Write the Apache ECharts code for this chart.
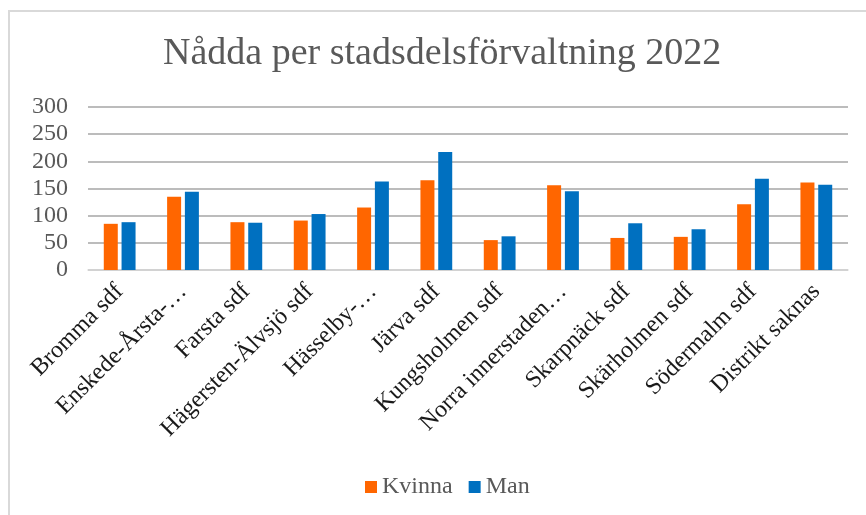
<!DOCTYPE html>
<html>
<head>
<meta charset="utf-8">
<script src="https://cdn.jsdelivr.net/npm/echarts@6/dist/echarts.min.js"></script>
<style>
  html, body { margin: 0; padding: 0; background: #fff; }
  #main { width: 866px; height: 515px; }
</style>
</head>
<body>
<div id="main"></div>
<script>
// stadsdelar (labels as shown, truncated ones keep the ellipsis)
var districts = [
  "Bromma sdf", "Enskede-Årsta-…", "Farsta sdf", "Hägersten-Älvsjö sdf",
  "Hässelby-…", "Järva sdf", "Kungsholmen sdf", "Norra innerstaden…",
  "Skarpnäck sdf", "Skärholmen sdf", "Södermalm sdf", "Distrikt saknas"
];
var kvinna = [85, 135, 88, 91, 115, 165, 55, 156, 59, 61, 121, 161];
var man = [88, 144, 87, 103, 163, 217, 62, 145, 86, 75, 168, 157];
var yTicks = [0, 50, 100, 150, 200, 250, 300];

var fontName = "Liberation Serif";
var grey = "#595959";

var myChart = echarts.init(document.getElementById("main"));

var option = {
  backgroundColor: "#fff",
  animation: false,
  textStyle: { fontFamily: fontName },
  // ram runt diagrammet
  graphic: [{
    type: "rect",
    shape: { x: 9, y: 11, width: 900, height: 600 },
    style: { fill: "none", stroke: "#d9d9d9", lineWidth: 2 }
  }],
  title: {
    text: "Nådda per stadsdelsförvaltning 2022",
    left: 158,
    top: 30,
    textStyle: { fontFamily: fontName, fontSize: 38, fontWeight: "normal", color: grey }
  },
  legend: {
    data: ["Kvinna", "Man"],
    bottom: 11,
    left: 360,
    icon: "rect",
    itemWidth: 12,
    itemHeight: 12,
    itemGap: 16,
    textStyle: { fontFamily: "'Liberation Serif', serif", fontSize: 24, color: grey }
  },
  grid: { left: 88, right: 18, top: 107, bottom: 245, containLabel: false },
  xAxis: {
    type: "category",
    data: districts,
    axisTick: { show: false },
    axisLine: { lineStyle: { color: "#d9d9d9", width: 1.5 } },
    axisLabel: {
      interval: 0,
      rotate: 45,
      margin: 18,
      fontFamily: fontName,
      fontSize: 24,
      color: "#1a1a1a"
    }
  },
  yAxis: {
    type: "value",
    min: yTicks[0],
    max: yTicks[yTicks.length - 1],
    interval: 50,
    axisLine: { show: false },
    axisTick: { show: false },
    splitLine: { lineStyle: { color: "#a6a6a6", width: 1.5 } },
    axisLabel: { margin: 20, fontFamily: fontName, fontSize: 24, color: grey }
  },
  series: [
    {
      name: "Kvinna",
      type: "bar",
      data: kvinna,
      barWidth: 14,
      barGap: "27%",
      itemStyle: { color: "#ff6600" }
    },
    {
      name: "Man",
      type: "bar",
      data: man,
      barWidth: 14,
      itemStyle: { color: "#0070c0" }
    }
  ]
};
myChart.setOption(option);
</script>
</body>
</html>
